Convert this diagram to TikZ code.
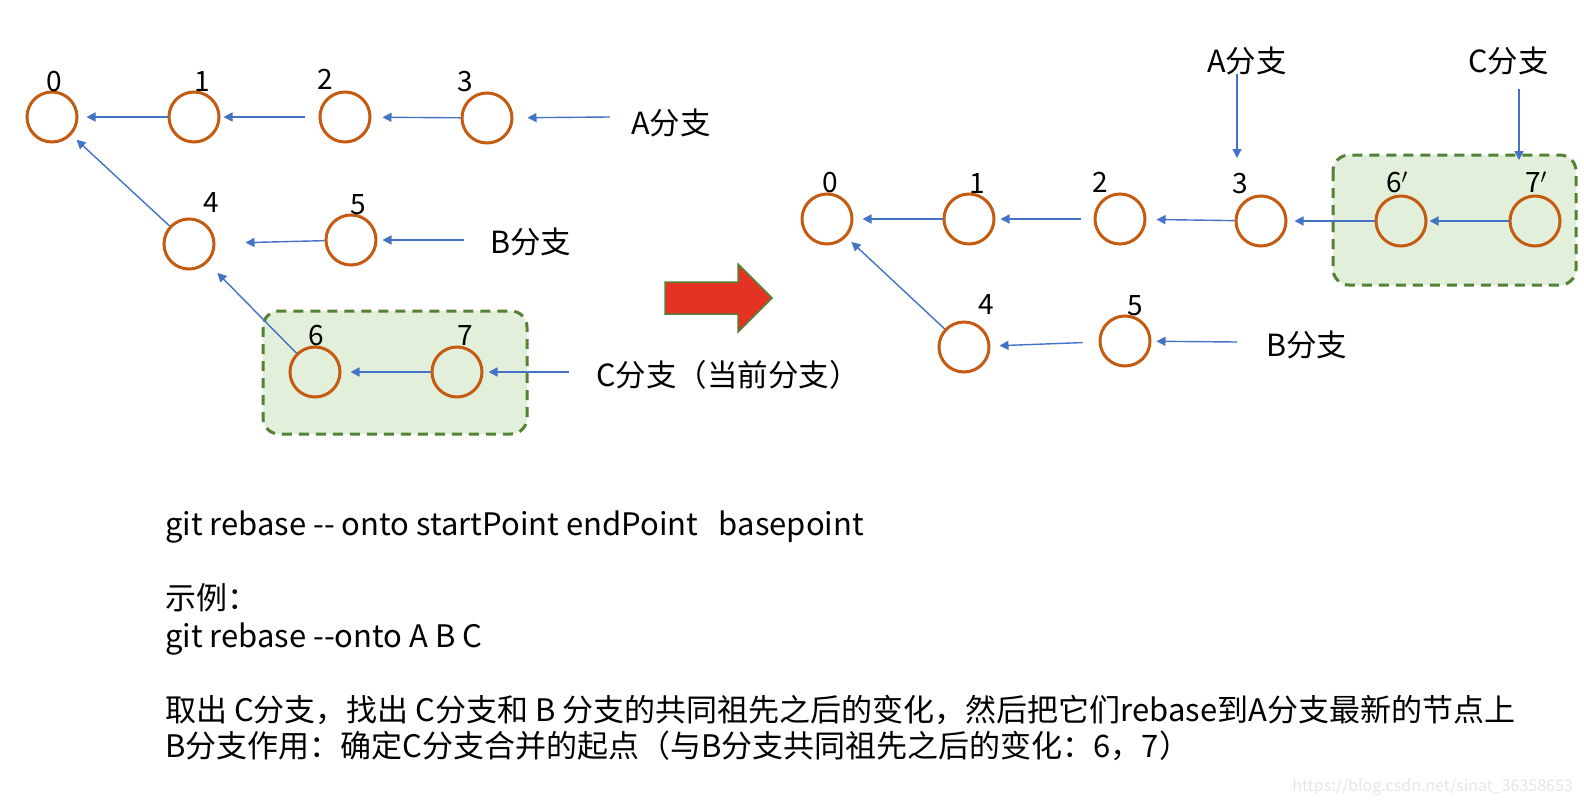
\documentclass[tikz,border=0pt]{standalone}
\usepackage{fontspec}
\setmainfont{Noto Sans CJK SC}
\usetikzlibrary{arrows.meta}
\definecolor{ring}{HTML}{C55A11}
\definecolor{link}{HTML}{4472C4}
\definecolor{boxfill}{HTML}{E2EFDA}
\definecolor{boxline}{HTML}{538135}
\definecolor{bigred}{HTML}{E53323}
\definecolor{wmark}{HTML}{E6E6E6}
\begin{document}
\begin{tikzpicture}[x=1pt,y=-1pt,
  commit/.style={circle, draw=ring, line width=3pt, minimum size=50pt, inner sep=0pt},
  num/.style={font=\fontsize{28}{32}\selectfont, inner sep=0pt},
  lbl/.style={font=\fontsize{30.5}{36}\selectfont, inner sep=0pt, anchor=west},
  body/.style={font=\fontsize{31}{37}\selectfont, inner sep=0pt, anchor=west},
  arr/.style={draw=link, line width=1.4pt, -{Triangle[length=9pt,width=9pt]}},
  grp/.style={draw=boxline, fill=boxfill, line width=3pt, dash pattern=on 10pt off 7pt, rounded corners=16pt}]
\fill[white] (0,0) rectangle (1584,806);
\useasboundingbox (0,0) rectangle (1584,806);

% ---------- left diagram ----------
\draw[grp] (263,311) rectangle (527,434);
\node[commit] (c0) at (52,117) {};
\node[commit] (c1) at (194,117) {};
\node[commit] (c2) at (345,117) {};
\node[commit] (c3) at (487,118) {};
\node[commit] (c4) at (189,244) {};
\node[commit] (c5) at (351,240) {};
\node[commit] (c6) at (315,372) {};
\node[commit] (c7) at (457,372) {};
\node[num] (l0) at (54,82) {0};
\node[num] (l1) at (202,82) {1};
\node[num] (l2) at (325,79) {2};
\node[num] (l3) at (465,82) {3};
\node[num] (l4) at (211,203) {4};
\node[num] (l5) at (358,205) {5};
\node[num] (l6) at (316,336) {6};
\node[num] (l7) at (465,336) {7};
\node[lbl] (lA) at (631,123) {A分支};
\node[lbl] (lB) at (490,242) {B分支};
\node[lbl] (lC) at (596,375) {C分支（当前分支）};
\coordinate (aA) at (610,117);
\coordinate (aB) at (464,240);
\coordinate (aC) at (569,372);

\draw[arr, shorten >=8pt] (c1) -- (c0);
\draw[arr, shorten <=14pt, shorten >=3pt] (c2) -- (c1);
\draw[arr, shorten >=11pt] (c3) -- (c2);
\draw[arr, shorten >=14pt] (aA) -- (c3);
\draw[arr, shorten >=7pt] (c4) -- (c0);
\draw[arr, shorten >=30pt] (c5) -- (c4);
\draw[arr, shorten >=5pt] (aB) -- (c5);
\draw[arr, shorten >=14pt] (c6) -- (c4);
\draw[arr, shorten >=9pt] (c7) -- (c6);
\draw[arr, shorten >=5pt] (aC) -- (c7);

% ---------- big arrow ----------
\draw[fill=bigred, draw=boxline, line width=1.5pt]
  (665,282) -- (738,282) -- (738,264) -- (772,298) -- (738,332) -- (738,314) -- (665,314) -- cycle;

% ---------- right diagram ----------
\draw[grp] (1333,155) rectangle (1576,285);
\node[commit] (r0) at (827,219) {};
\node[commit] (r1) at (969,219) {};
\node[commit] (r2) at (1120,219) {};
\node[commit] (r3) at (1261,221) {};
\node[commit] (r6) at (1401,221) {};
\node[commit] (r7) at (1535,221) {};
\node[commit] (r4) at (964,347) {};
\node[commit] (r5) at (1125,341) {};
\node[num] (m0) at (830,183) {0};
\node[num] (m1) at (977,184) {1};
\node[num] (m2) at (1100,182) {2};
\node[num] (m3) at (1240,184) {3};
\node[num] (m6) at (1397,182) {6$'$};
\node[num] (m7) at (1536,182) {7$'$};
\node[num] (m4) at (986,305) {4};
\node[num] (m5) at (1135,306) {5};
\node[lbl] (rA) at (1207,61) {A分支};
\node[lbl] (rC) at (1468,61) {C分支};
\node[lbl] (rB) at (1266,345) {B分支};
\coordinate (rAs) at (1237,74);
\coordinate (rAe) at (1237,158);
\coordinate (rCs) at (1519,89);
\coordinate (rCe) at (1519,160);
\coordinate (rBs) at (1237,342);

\draw[arr] (rAs) -- (rAe);
\draw[arr] (rCs) -- (rCe);
\draw[arr, shorten >=9pt] (r1) -- (r0);
\draw[arr, shorten <=13pt, shorten >=5pt] (r2) -- (r1);
\draw[arr, shorten >=10pt] (r3) -- (r2);
\draw[arr, shorten >=7pt] (r6) -- (r3);
\draw[arr, shorten >=2pt] (r7) -- (r6);
\draw[arr, shorten >=7pt] (r4) -- (r0);
\draw[arr, shorten <=16pt, shorten >=9pt] (r5) -- (r4);
\draw[arr, shorten >=5pt] (rBs) -- (r5);

% ---------- text ----------
\node[body] (t1) at (165,527) {git rebase -\kern0pt- onto startPoint endPoint\ \ \ basepoint};
\node[body] (t2) at (165,598) {示例：};
\node[body] (t3) at (165,639) {git rebase -\kern0pt-onto A B C};
\node[body] (t4) at (165,710) {取出 C分支，找出 C分支和 B 分支的共同祖先之后的变化，然后把它们rebase到A分支最新的节点上};
\node[body] (t5) at (165,746) {B分支作用：确定C分支合并的起点（与B分支共同祖先之后的变化：6，7）};
\node[font=\fontsize{16}{18}\selectfont, text=wmark, inner sep=0pt, anchor=east] (wm) at (1573,787) {https://blog.csdn.net/sinat\_36358653};
\end{tikzpicture}
\end{document}
